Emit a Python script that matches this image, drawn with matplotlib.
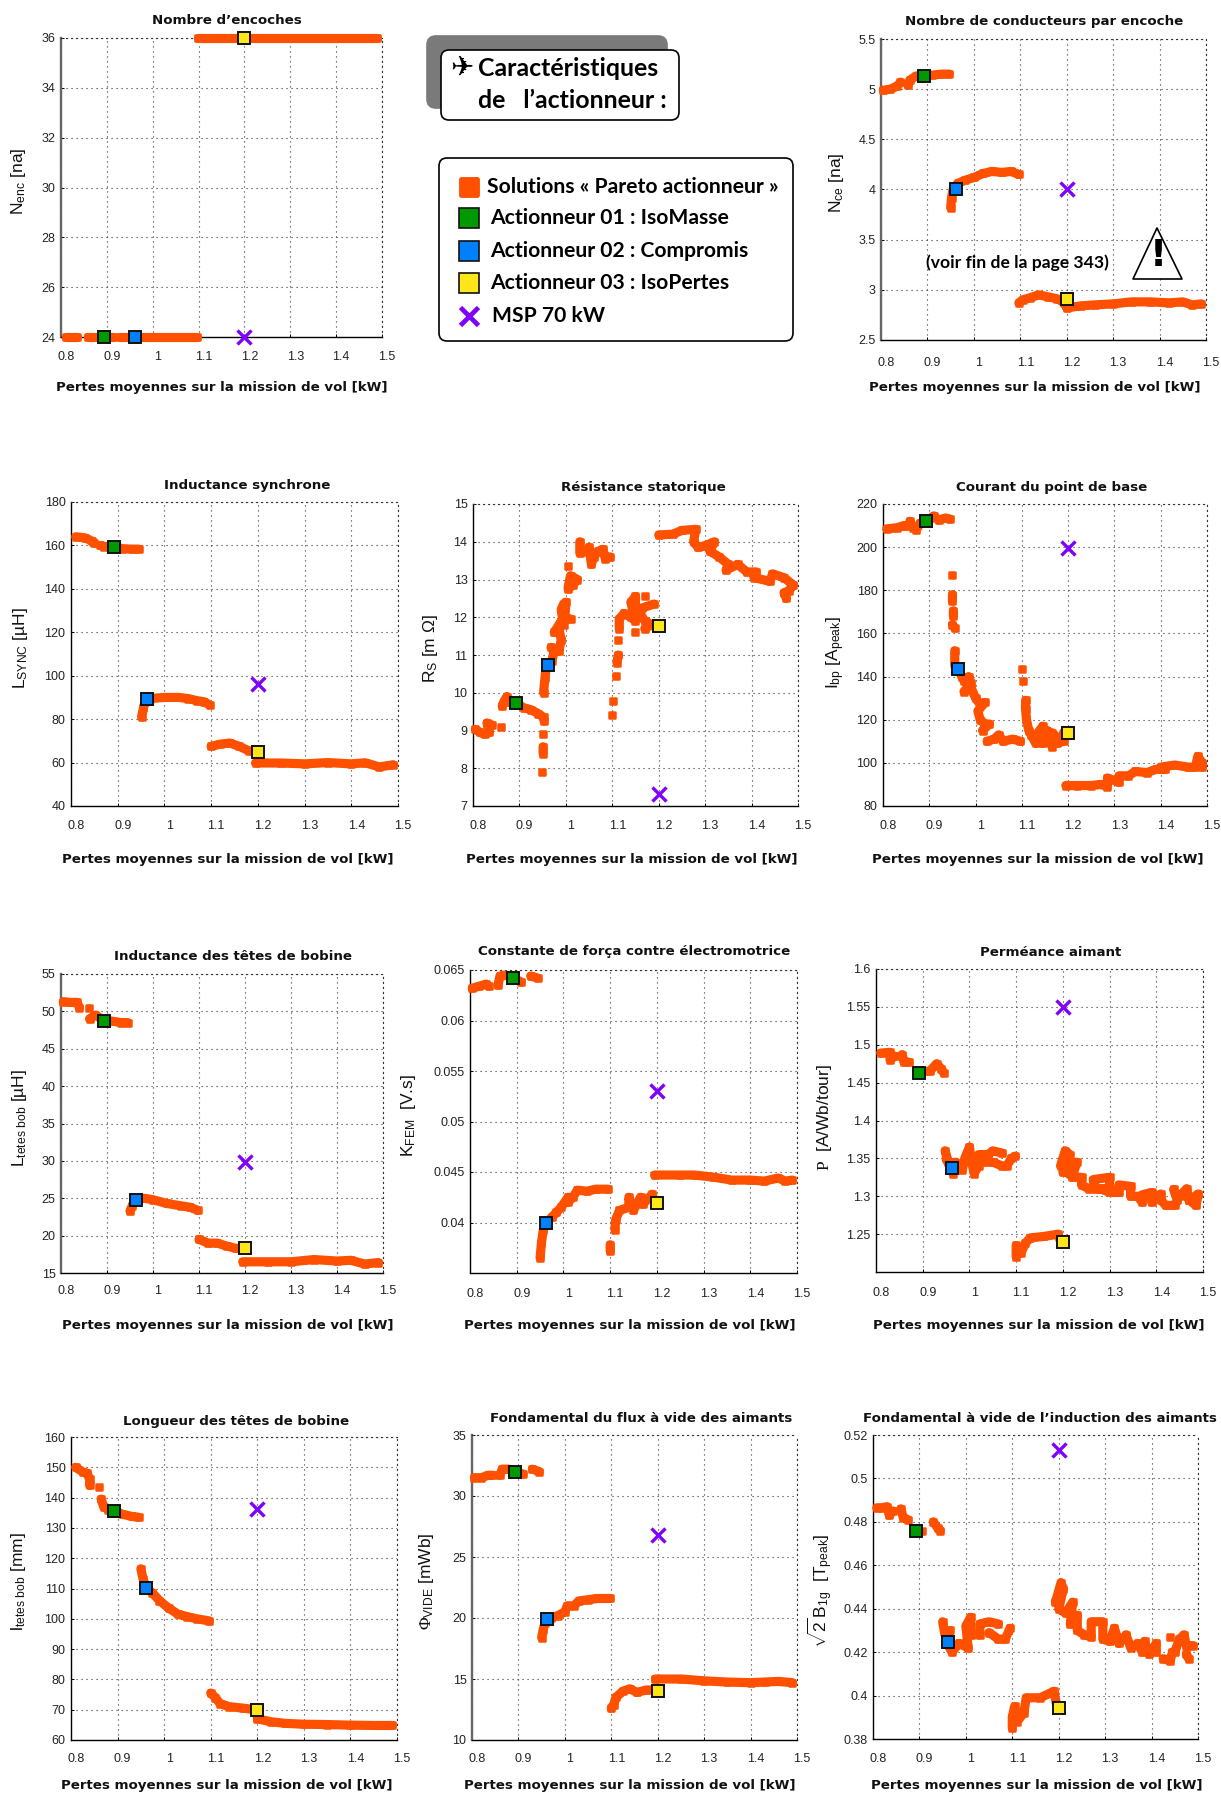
import matplotlib
matplotlib.use("Agg")
import matplotlib.pyplot as plt
from matplotlib.markers import MarkerStyle
from matplotlib.patches import FancyBboxPatch, Polygon
from matplotlib.transforms import ScaledTranslation

WIDTH = 1221
HEIGHT = 1796
BRK = float("nan")  # coupure entre deux branches du front

X_TICKS = [0.8, 0.9, 1, 1.1, 1.2, 1.3, 1.4, 1.5]
XLABEL = "Pertes moyennes sur la mission de vol [kW]"

# ---- front de Pareto ----
NENC_X = [0.81, 0.82, 0.835, BRK, 0.859, 0.875, 0.89, 0.913, BRK, 0.928, 0.95, 0.97, 1.0, 1.03, 1.06, 1.096, BRK,
          1.098, 1.15, 1.2, 1.25, 1.3, 1.35, 1.4, 1.45, 1.49]
NENC_Y = [24, 24, 24, BRK, 24, 24, 24, 24, BRK, 24, 24, 24, 24, 24, 24, 24, BRK,
          36, 36, 36, 36, 36, 36, 36, 36, 36]

NCE_X = [0.805, 0.82, 0.835, 0.842, BRK, 0.858, 0.862, 0.875, 0.89, 0.91, 0.93, 0.947, BRK,
         0.95, 0.952, 0.955, 0.965, 0.98, 1.0, 1.02, 1.04, 1.06, 1.08, 1.097, BRK,
         1.097, 1.105, 1.12, 1.14, 1.16, 1.18, 1.195, 1.2, 1.23, 1.26, 1.3, 1.34, 1.38, 1.42, 1.45, 1.47, 1.49]
NCE_Y = [4.99, 5.0, 5.03, 5.07, BRK, 5.04, 5.09, 5.13, 5.14, 5.14, 5.15, 5.15, BRK,
         3.82, 3.92, 4.0, 4.06, 4.09, 4.12, 4.16, 4.18, 4.17, 4.18, 4.15, BRK,
         2.87, 2.9, 2.92, 2.95, 2.93, 2.91, 2.87, 2.82, 2.84, 2.85, 2.86, 2.88, 2.88, 2.87, 2.88, 2.85, 2.86]

LSYNC_X = [0.81, 0.83, 0.845, 0.85, BRK, 0.862, 0.87, 0.893, 0.91, 0.93, 0.945, BRK,
           0.951, 0.955, 0.958, 0.97, 1.0, 1.03, 1.05, 1.07, 1.085, 1.097, BRK,
           1.1, 1.12, 1.14, 1.16, 1.18, 1.195, BRK,
           1.195, 1.25, 1.3, 1.35, 1.4, 1.43, 1.46, 1.49]
LSYNC_Y = [164, 163.5, 162, 161, BRK, 160, 159.5, 159.5, 158.5, 158.3, 158.3, BRK,
           81, 85, 88, 89.5, 90, 90, 89.5, 88.5, 88, 86.5, BRK,
           67.5, 68.5, 69, 67.5, 65.5, 65, BRK,
           59.8, 59.8, 59.4, 60, 59.4, 59.9, 58, 59]

RS_X = [0.805, 0.815, 0.825, 0.835, 0.83, 0.84, BRK, 0.86, BRK,
        0.863, 0.866, 0.873, 0.878, 0.893, 0.91, 0.925, 0.94, 0.952, 0.953, BRK, 0.951, BRK, 0.951, 0.951, BRK, 0.949, BRK,
        0.952, 0.955, 0.958, 0.97, 0.975, 0.968, 0.985, 0.99, 0.985, 0.975, 0.99, 0.995, 0.99, 0.995, 1.0, 0.998, 1.01, BRK,
        1.005, 1.015, 1.025, 1.01, 1.005, BRK, 1.005, BRK,
        1.03, 1.03, 1.045, 1.05, 1.055, 1.06, 1.07, 1.08, 1.085, 1.095, BRK,
        1.1, BRK, 1.102, BRK, 1.109, BRK, 1.11, 1.113, BRK, 1.112, BRK,
        1.115, 1.115, 1.125, 1.14, 1.15, 1.14, 1.15, 1.15, 1.16, 1.17, 1.185, 1.17, BRK, 1.15, BRK, 1.17, BRK, 1.165, 1.19, BRK,
        1.2, 1.23, 1.25, 1.28, 1.275, 1.285, 1.3, 1.32, 1.31, 1.33, 1.35, 1.345, 1.37, 1.39, 1.41, 1.405, 1.44, 1.445,
        1.47, 1.49, 1.48, 1.47, 1.475]
RS_Y = [9.03, 8.95, 8.9, 8.95, 9.2, 9.15, BRK, 9.08, BRK,
        9.65, 9.75, 9.9, 9.75, 9.72, 9.6, 9.55, 9.45, 9.35, 9.25, BRK, 8.92, BRK, 8.57, 8.39, BRK, 7.9, BRK,
        10.0, 10.4, 10.7, 10.85, 11.1, 11.2, 11.1, 11.4, 11.7, 11.6, 11.9, 11.8, 12.2, 12.35, 12.4, 12.0, 11.95, BRK,
        12.75, 12.85, 13.0, 13.1, 12.8, BRK, 13.35, BRK,
        14.0, 13.7, 13.75, 13.85, 13.4, 13.6, 13.75, 13.8, 13.55, 13.6, BRK,
        9.4, BRK, 9.78, BRK, 10.45, BRK, 10.8, 11.0, BRK, 11.4, BRK,
        11.7, 11.95, 12.1, 12.0, 11.9, 12.4, 12.55, 12.2, 12.1, 11.9, 11.8, 11.7, BRK, 11.6, BRK, 12.55, BRK, 12.25, 12.35, BRK,
        14.18, 14.2, 14.3, 14.33, 14.0, 13.85, 13.9, 14.0, 13.75, 13.6, 13.4, 13.25, 13.4, 13.2, 13.2, 13.05, 12.95, 13.15,
        13.05, 12.85, 12.7, 12.65, 12.5]

IBP_X = [0.808, 0.83, 0.845, 0.85, BRK, 0.858, 0.865, 0.872, 0.88, 0.9, 0.91, 0.92, 0.935, 0.945, BRK,
         0.95, BRK, 0.95, 0.95, BRK, 0.952, 0.952, BRK, 0.95, 0.955, BRK, 0.955, 0.955, 0.965,
         0.97, 0.975, 0.985, 0.99, 0.975, 0.99, 1.0, 1.01, 1.02, 1.005, 1.01, 1.02, 1.03, 1.015, BRK,
         1.025, 1.04, 1.05, 1.06, 1.08, 1.097, BRK,
         1.1, BRK, 1.102, BRK, 1.108, 1.108, 1.11, 1.115, 1.12, 1.13, 1.135, 1.145, 1.145, 1.155, 1.165, 1.165, 1.175, 1.175, 1.19, 1.19, BRK,
         1.195, 1.22, 1.25, 1.27, 1.285, 1.285, 1.31, 1.31, 1.33, 1.345, 1.37, 1.39, 1.41, 1.4, 1.43, 1.46, 1.475, 1.48, 1.49, 1.49]
IBP_Y = [208.5, 209, 210, 210, BRK, 212, 209, 208, 211, 213, 214.5, 212.5, 213.5, 213, BRK,
         187, BRK, 178, 175, BRK, 170.5, 168, BRK, 164, 162.5, BRK, 152, 145, 143,
         140, 138, 140, 137, 133, 135, 130, 127, 128, 124, 120, 118, 118, 115, BRK,
         110, 111, 113, 110, 111, 110, BRK,
         143.5, BRK, 138, BRK, 129, 125, 120, 115, 113, 109, 114, 117, 109, 115, 107.5, 114, 112, 109, 110, 114, BRK,
         89.5, 89.5, 89.5, 90, 89, 93, 91, 94, 94, 96, 95.5, 97, 97, 98, 99, 98, 98, 103, 100, 98]

LTETE_X = [0.805, 0.82, 0.835, 0.84, BRK, 0.86, BRK, 0.862, 0.875, 0.893, 0.91, 0.93, 0.945, BRK,
           0.95, 0.955, 0.96, 0.98, 1.0, 1.03, 1.06, 1.08, 1.097, BRK,
           1.1, 1.12, 1.14, 1.16, 1.18, 1.195, BRK,
           1.195, 1.25, 1.3, 1.35, 1.4, 1.43, 1.46, 1.49]
LTETE_Y = [51.3, 51.2, 51.2, 50.5, BRK, 50.4, BRK, 49, 49.5, 48.8, 48.7, 48.5, 48.5, BRK,
           23.3, 24, 24.8, 25, 24.8, 24.3, 24, 23.8, 23.4, BRK,
           19.5, 19, 19, 18.6, 18.3, 18.3, BRK,
           16.5, 16.5, 16.5, 16.8, 16.6, 16.7, 16.2, 16.4]

KFEM_X = [0.805, 0.82, 0.835, 0.84, BRK, 0.86, 0.864, 0.875, 0.893, 0.91, BRK, 0.93, 0.945, BRK,
          0.95, 0.953, 0.957, 0.963, 0.975, 0.985, 0.995, 1.01, 1.01, 1.02, 1.03, 1.05, 1.07, 1.095, BRK,
          1.1, 1.1, BRK, 1.11, 1.112, 1.12, 1.14, 1.14, 1.15, 1.165, 1.17, 1.19, 1.195, BRK,
          1.195, 1.25, 1.28, 1.32, 1.36, 1.4, 1.43, 1.46, 1.475, 1.49]
KFEM_Y = [0.0632, 0.0634, 0.0636, 0.0634, BRK, 0.0635, 0.0644, 0.0645, 0.0642, 0.0638, BRK, 0.0644, 0.0642, BRK,
          0.0365, 0.038, 0.0393, 0.04, 0.0405, 0.041, 0.0415, 0.0425, 0.042, 0.0425, 0.0432, 0.0431, 0.0433, 0.0433, BRK,
          0.0378, 0.0372, BRK, 0.0393, 0.0403, 0.0412, 0.0415, 0.0425, 0.0412, 0.0425, 0.0418, 0.0428, 0.042, BRK,
          0.0447, 0.0447, 0.0447, 0.0445, 0.0442, 0.0442, 0.0441, 0.0444, 0.0441, 0.0442]

PERM_X = [0.81, 0.83, 0.83, 0.84, BRK, 0.856, 0.86, 0.87, BRK, 0.9, 0.915, 0.93, 0.94, 0.945, BRK,
          0.948, 0.955, 0.95, 0.965, 0.97, 0.985, 0.99, 1.0, 1.005, 1.01, 1.02, 1.02, 1.04, 1.05, 1.07, BRK,
          1.03, 1.05, 1.07, 1.08, 1.09, 1.098, BRK,
          1.1, 1.1, 1.11, 1.12, 1.13, 1.16, 1.19, 1.195, BRK,
          1.195, 1.205, 1.215, 1.2, 1.215, 1.23, 1.22, 1.24, 1.24, 1.255, 1.27, 1.265, 1.3, 1.3, 1.28, 1.3, 1.32, 1.32,
          1.345, 1.345, 1.36, 1.37, 1.37, 1.39, 1.39, 1.41, 1.41, 1.42, 1.44, 1.445, 1.437, BRK,
          1.45, 1.465, 1.47, 1.49, 1.485, 1.47]
PERM_Y = [1.489, 1.49, 1.48, 1.485, BRK, 1.487, 1.477, 1.477, BRK, 1.465, 1.465, 1.475, 1.468, 1.463, BRK,
          1.36, 1.345, 1.35, 1.33, 1.345, 1.335, 1.35, 1.365, 1.345, 1.33, 1.34, 1.355, 1.355, 1.36, 1.357, BRK,
          1.345, 1.345, 1.34, 1.34, 1.35, 1.353, BRK,
          1.22, 1.235, 1.225, 1.238, 1.245, 1.247, 1.25, 1.24, BRK,
          1.34, 1.36, 1.355, 1.332, 1.33, 1.345, 1.325, 1.325, 1.315, 1.31, 1.31, 1.322, 1.325, 1.31, 1.31, 1.305, 1.305, 1.315,
          1.313, 1.3, 1.3, 1.292, 1.302, 1.305, 1.292, 1.303, 1.295, 1.288, 1.288, 1.295, 1.309, BRK,
          1.3, 1.31, 1.295, 1.303, 1.288, 1.295]

LONG_X = [0.81, 0.825, 0.835, 0.84, 0.84, BRK, 0.86, BRK, 0.865, 0.87, 0.88, 0.893, 0.91, 0.93, 0.945, BRK,
          0.95, 0.955, 0.963, 0.975, 0.99, 1.01, 1.03, 1.05, 1.07, 1.097, BRK,
          1.1, 1.11, 1.12, 1.14, 1.17, 1.195, BRK,
          1.2, 1.23, 1.26, 1.3, 1.35, 1.4, 1.45, 1.49]
LONG_Y = [150, 148.5, 148, 146, 144, BRK, 143.5, BRK, 139.5, 137, 136, 135.7, 134.5, 133.8, 133.5, BRK,
          116.5, 113, 110, 108.5, 106, 103.5, 101.5, 100.7, 100, 99.3, BRK,
          75.5, 74, 72, 71, 70.5, 70, BRK,
          67, 66, 65.5, 65.2, 65.1, 64.9, 64.8, 64.8]

PHI_X = [0.805, 0.82, 0.835, 0.845, BRK, 0.86, 0.865, 0.88, 0.893, 0.91, BRK, 0.93, 0.945, BRK,
         0.95, 0.953, 0.957, 0.97, 0.985, 1.0, 1.005, 1.02, 1.03, 1.05, 1.07, 1.097, BRK,
         1.1, 1.105, 1.11, 1.125, 1.14, 1.155, 1.175, 1.195, BRK,
         1.195, 1.25, 1.3, 1.35, 1.4, 1.43, 1.46, 1.49]
PHI_Y = [31.5, 31.5, 31.7, 31.7, BRK, 31.7, 32.2, 32.2, 32, 31.8, BRK, 32.2, 32.0, BRK,
         18.4, 19, 19.6, 20, 20.2, 20.5, 21, 21, 21.4, 21.5, 21.6, 21.6, BRK,
         12.6, 12.9, 13.5, 14, 14.2, 13.9, 14.1, 14.1, BRK,
         15, 15, 14.85, 14.75, 14.7, 14.75, 14.8, 14.7]

B1G_X = [0.808, 0.82, 0.83, 0.835, 0.843, BRK, 0.86, 0.865, 0.875, BRK, 0.905, BRK, 0.93, 0.94, 0.945, BRK,
         0.95, 0.955, 0.965, 0.96, 0.97, 0.985, 1.005, 1.0, 1.01, 1.01, 1.03, 1.03, 1.05, 1.07, BRK, 1.05, 1.07, 1.085, 1.095, BRK,
         1.1, 1.1, 1.105, 1.11, 1.125, 1.13, 1.16, 1.19, 1.195, BRK,
         1.193, 1.205, 1.21, 1.2, 1.215, 1.23, 1.225, 1.24, 1.24, 1.255, 1.27, 1.27, 1.295, 1.295, 1.31, 1.32, 1.33, 1.345,
         1.355, 1.37, 1.38, 1.385, 1.395, 1.41, 1.41, BRK,
         1.425, 1.44, 1.445, BRK, 1.44, BRK, 1.45, 1.46, 1.47, 1.475, 1.49, BRK, 1.475, 1.48]
B1G_Y = [0.4865, 0.4865, 0.487, 0.483, 0.485, BRK, 0.486, 0.482, 0.481, BRK, 0.476, BRK, 0.48, 0.477, 0.476, BRK,
         0.434, 0.428, 0.43, 0.424, 0.42, 0.424, 0.422, 0.432, 0.436, 0.428, 0.428, 0.433, 0.434, 0.433, BRK, 0.429, 0.426, 0.426, 0.431, BRK,
         0.385, 0.39, 0.395, 0.388, 0.392, 0.399, 0.399, 0.402, 0.396, BRK,
         0.443, 0.452, 0.449, 0.44, 0.438, 0.443, 0.433, 0.437, 0.43, 0.428, 0.427, 0.434, 0.434, 0.426, 0.425, 0.431, 0.424, 0.428,
         0.422, 0.424, 0.42, 0.425, 0.419, 0.424, 0.42, BRK,
         0.417, 0.416, 0.42, BRK, 0.427, BRK, 0.42, 0.426, 0.428, 0.423, 0.423, BRK, 0.419, 0.417]

# ---- actionneurs et MSP, dans l'ordre des panneaux ----
ACT01_X = [0.893, 0.893, 0.893, 0.893, 0.893, 0.893, 0.893, 0.893, 0.893, 0.893, 0.893]
ACT01_Y = [24, 5.13, 159.5, 9.72, 212, 48.7, 0.0642, 1.463, 135.7, 32.0, 0.476]
ACT02_X = [0.962, 0.962, 0.962, 0.962, 0.962, 0.962, 0.962, 0.962, 0.962, 0.962, 0.962]
ACT02_Y = [24, 4.0, 89.5, 10.73, 143.5, 24.8, 0.03995, 1.337, 110.2, 19.95, 0.4245]
ACT03_X = [1.2, 1.2, 1.2, 1.2, 1.2, 1.2, 1.2, 1.2, 1.2, 1.2, 1.2]
ACT03_Y = [36, 2.91, 65, 11.78, 114, 18.4, 0.0419, 1.239, 70, 14, 0.3945]
MSP_X = [1.2, 1.2, 1.2, 1.2, 1.2, 1.2, 1.2, 1.2, 1.2, 1.2, 1.2]
MSP_Y = [24, 4, 96, 7.33, 199.5, 29.8, 0.053, 1.55, 136.2, 26.8, 0.513]

TITLES = ["Nombre d\u2019encoches", "Nombre de conducteurs par encoche", "Inductance synchrone",
          "R\u00e9sistance statorique", "Courant du point de base", "Inductance des t\u00eates de bobine",
          "Constante de for\u00e7a contre \u00e9lectromotrice", "Perm\u00e9ance aimant", "Longueur des t\u00eates de bobine",
          "Fondamental du flux \u00e0 vide des aimants", "Fondamental \u00e0 vide de l\u2019induction des aimants"]
YLABELS = [r"$\mathrm{N_{enc}}$ [na]", r"$\mathrm{N_{ce}}$ [na]", r"$\mathrm{L_{SYNC}}$ [µH]",
           r"$\mathrm{R_{S}}$ [m $\mathrm{\Omega}$]", r"$\mathrm{I_{bp}}$ [$\mathrm{A_{peak}}$]",
           r"$\mathrm{L_{tetes\ bob}}$ [µH]", r"$\mathrm{K_{FEM}}$  [V.s]", r"$\mathsf{P}$  [A/Wb/tour]",
           r"$\mathrm{l_{tetes\ bob}}$ [mm]", r"$\mathsf{\Phi}_{\mathrm{VIDE}}$ [mWb]",
           r"$\sqrt{2}\,\mathrm{B_{1g}}$  [$\mathrm{T_{peak}}$]"]
Y_TICKS = [[24, 26, 28, 30, 32, 34, 36],
           [2.5, 3, 3.5, 4, 4.5, 5, 5.5],
           [40, 60, 80, 100, 120, 140, 160, 180],
           [7, 8, 9, 10, 11, 12, 13, 14, 15],
           [80, 100, 120, 140, 160, 180, 200, 220],
           [15, 20, 25, 30, 35, 40, 45, 50, 55],
           [0.04, 0.045, 0.05, 0.055, 0.06, 0.065],
           [1.25, 1.3, 1.35, 1.4, 1.45, 1.5, 1.55, 1.6],
           [60, 70, 80, 90, 100, 110, 120, 130, 140, 150, 160],
           [10, 15, 20, 25, 30, 35],
           [0.38, 0.4, 0.42, 0.44, 0.46, 0.48, 0.5, 0.52]]
Y_LIMS = [(24, 36), (2.5, 5.5), (40, 180), (7, 15), (80, 220), (15, 55),
          (0.035, 0.065), (1.2, 1.6), (60, 160), (10, 35), (0.38, 0.52)]
FRONT_X = [NENC_X, NCE_X, LSYNC_X, RS_X, IBP_X, LTETE_X, KFEM_X, PERM_X, LONG_X, PHI_X, B1G_X]
FRONT_Y = [NENC_Y, NCE_Y, LSYNC_Y, RS_Y, IBP_Y, LTETE_Y, KFEM_Y, PERM_Y, LONG_Y, PHI_Y, B1G_Y]

LEGEND_LABELS = ["Solutions \u00ab Pareto actionneur \u00bb", "Actionneur 01 : IsoMasse",
                 "Actionneur 02 : Compromis", "Actionneur 03 : IsoPertes", "MSP 70 kW"]

# mise en page, en pixels de l'image : gauche, droite, haut, bas
BOXES = [(61, 382, 38, 337), (881, 1206, 39, 340), (71, 398, 502, 806), (473, 798, 504, 806),
         (883, 1207, 504, 806), (61, 383, 974, 1273), (470, 797, 970, 1273), (876, 1203, 969, 1272),
         (71, 397, 1437, 1740), (472, 797, 1435, 1740), (873, 1198, 1435, 1739)]
TITLE_POS = [(227, 21), (1044, 21), (247, 485), (643, 487), (1052, 487), (233, 957),
             (634, 952), (1051, 952), (236, 1421), (641, 1418), (1040, 1418)]
XLABEL_POS = [(222, 388), (1035, 388), (228, 860), (632, 859), (1038, 860), (228, 1326),
              (630, 1326), (1039, 1326), (227, 1786), (630, 1786), (1037, 1786)]
YLABEL_POS = [(19, 181), (836, 183), (20, 648), (431, 649), (836, 653), (20, 1118),
              (409, 1115), (824, 1117), (19, 1582), (426, 1581), (820, 1591)]
XTICK_PAD = [16, 18, 16, 16, 16, 15, 17, 17, 15, 15, 16]
GRAY_LEFT = [True, True, False, False, False, True, False, False, False, True, False]

ORANGE = "#FF5000"
GREEN = "#009900"
BLUE = "#0080FF"
YELLOW = "#FFE619"
PURPLE = "#8000FF"

plt.rcParams["font.family"] = ["Liberation Sans", "DejaVu Sans"]
plt.rcParams["mathtext.fontset"] = "custom"
plt.rcParams["mathtext.rm"] = "Liberation Sans"
plt.rcParams["mathtext.it"] = "Liberation Sans:italic"
plt.rcParams["mathtext.sf"] = "Liberation Serif"
plt.rcParams["mathtext.fallback"] = "cm"

TITLE_FONT = {"family": "DejaVu Sans", "weight": "bold", "fontsize": 9.6, "color": "#111111"}
BOX_FONT = {"family": "Lato", "weight": "bold", "color": "black"}


def drawPanel(fig, i):
    left, right, top, bottom = BOXES[i]
    ax = fig.add_axes([left / WIDTH, 1 - bottom / HEIGHT, (right - left) / WIDTH, (bottom - top) / HEIGHT])
    ax.set_xlim(0.8, 1.5)
    ax.set_ylim(*Y_LIMS[i])
    ax.set_xticks(X_TICKS)
    ax.set_xticklabels([str(t) for t in X_TICKS])
    ax.set_yticks(Y_TICKS[i])
    ax.set_yticklabels([str(t) for t in Y_TICKS[i]])
    ax.tick_params(axis="x", direction="in", length=2.5, width=0.7, labelsize=9, pad=XTICK_PAD[i] - 6,
                   labelcolor="#222222")
    ax.tick_params(axis="y", direction="in", length=2.5, width=0.7, labelsize=9, pad=4, labelcolor="#222222")
    # les labels de l'axe x sont decales vers la droite dans l'original
    shift = ScaledTranslation(5 / fig.dpi, 0, fig.dpi_scale_trans)
    for lab in ax.get_xticklabels():
        lab.set_transform(lab.get_transform() + shift)

    ax.set_axisbelow(True)
    ax.grid(True, color="#333333", linewidth=0.8, linestyle=(0, (1, 3.5)))
    for side in ["top", "right"]:
        ax.spines[side].set_linestyle((0, (1, 3.5)))
        ax.spines[side].set_linewidth(0.8)
        ax.spines[side].set_color("#333333")
    ax.spines["bottom"].set_linewidth(1.0)
    ax.spines["left"].set_linewidth(1.7 if GRAY_LEFT[i] else 1.0)
    ax.spines["left"].set_color("#666666" if GRAY_LEFT[i] else "black")

    ax.plot(FRONT_X[i], FRONT_Y[i], "-", color=ORANGE, linewidth=6.6, solid_capstyle="round",
            solid_joinstyle="round", marker=MarkerStyle("s", joinstyle="round"), markersize=5.0,
            markeredgewidth=1.8, markeredgecolor=ORANGE, clip_on=False, zorder=3)
    ax.plot(MSP_X[i], MSP_Y[i], "x", color=PURPLE, markersize=9.5, markeredgewidth=2.4, clip_on=False, zorder=4)
    for xs, ys, col in [(ACT01_X, ACT01_Y, GREEN), (ACT02_X, ACT02_Y, BLUE), (ACT03_X, ACT03_Y, YELLOW)]:
        ax.plot(xs[i], ys[i], "s", markerfacecolor=col, markeredgecolor="#111111", markersize=9.2,
                markeredgewidth=1.4, clip_on=False, zorder=5)


def drawLabels(over, i):
    over.text(*TITLE_POS[i], TITLES[i], ha="center", va="center", **TITLE_FONT)
    over.text(*XLABEL_POS[i], XLABEL, ha="center", va="center", **TITLE_FONT)
    over.text(*YLABEL_POS[i], YLABELS[i], ha="center", va="center", rotation=90, fontsize=12.5, color="#111111")


def roundBox(over, x0, y0, x1, y1, face, edge, radius=8, zorder=2):
    over.add_patch(FancyBboxPatch((x0 + radius, y0 + radius), x1 - x0 - 2 * radius, y1 - y0 - 2 * radius,
                                  boxstyle=f"round,pad={radius},rounding_size={radius}", facecolor=face,
                                  edgecolor=edge, linewidth=1.2, zorder=zorder))


def drawOverlay(over):
    # encadre titre
    roundBox(over, 427, 36, 667, 108, "#7a7a7a", "#7a7a7a", radius=9, zorder=1)
    roundBox(over, 441, 50, 679, 120, "white", "black", radius=8, zorder=2)
    over.text(462, 68, "\u2708", family="DejaVu Sans", weight="bold", fontsize=20, ha="center", va="center",
              color="black", zorder=3)
    over.text(478, 68, "Caract\u00e9ristiques", ha="left", va="center", fontsize=17.9, zorder=3, **BOX_FONT)
    over.text(478, 100, "de   l\u2019actionneur :", ha="left", va="center", fontsize=17.9, zorder=3, **BOX_FONT)

    # legende
    roundBox(over, 439, 158, 793, 341, "white", "black", radius=8, zorder=2)
    rows = [187, 218, 251, 283, 316]
    textX = [487, 490, 490, 490, 492]
    for y, x, label in zip(rows, textX, LEGEND_LABELS):
        over.text(x, y, label, ha="left", va="center", fontsize=15.2, zorder=3, **BOX_FONT)
    over.plot([469], [rows[0]], color=ORANGE, markersize=11, markeredgewidth=3.5, markeredgecolor=ORANGE,
              marker=MarkerStyle("s", joinstyle="round"), zorder=3)
    for y, col in zip(rows[1:4], [GREEN, BLUE, YELLOW]):
        over.plot([469], [y], "s", markerfacecolor=col, markeredgecolor="#111111", markersize=14.2,
                  markeredgewidth=1.2, zorder=3)
    over.plot([469], [rows[4]], "x", color=PURPLE, markersize=13.5, markeredgewidth=3.4, zorder=3)

    # remarque et triangle
    over.text(1017, 263, "(voir fin de la page 343)", ha="center", va="center", fontsize=12.6, zorder=3, **BOX_FONT)
    over.add_patch(Polygon([(1157, 228), (1182, 279), (1133, 279)], closed=True, facecolor="white",
                           edgecolor="black", linewidth=1.2, joinstyle="round", zorder=3))
    over.text(1158, 256, "!", family="DejaVu Sans", weight="bold", fontsize=27, ha="center", va="center",
              color="black", zorder=4)


if __name__ == "__main__":
    fig = plt.figure(figsize=(WIDTH / 100, HEIGHT / 100), dpi=100)
    for i in range(len(BOXES)):
        drawPanel(fig, i)

    over = fig.add_axes([0, 0, 1, 1], zorder=10)
    over.set_xlim(0, WIDTH)
    over.set_ylim(HEIGHT, 0)
    over.axis("off")
    for i in range(len(BOXES)):
        drawLabels(over, i)
    drawOverlay(over)

    fig.savefig("out.png", dpi=100)
